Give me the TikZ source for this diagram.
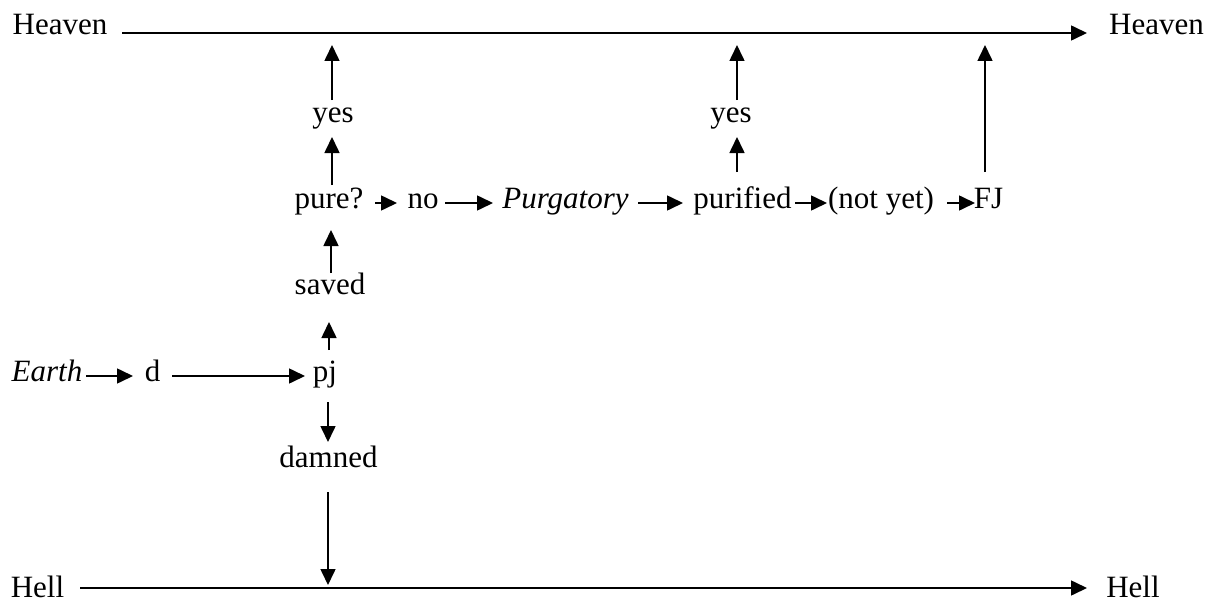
\documentclass[tikz,border=0pt]{standalone}
\usepackage{fontspec}
\setmainfont{Liberation Serif}
\usetikzlibrary{arrows.meta,calc}
\tikzset{
  lbl/.style={inner sep=0pt, anchor=base, font=\fontsize{31}{37}\selectfont},
  arr/.style={line width=1.6pt, -{Triangle[length=16pt,width=15pt]}},
}
\begin{document}
\begin{tikzpicture}[x=1pt,y=-1pt]
\useasboundingbox (0,0) rectangle (1216,602);
% nodes
\node[lbl] (H1) at (60,35) {Heaven};
\node[lbl] (H2) at (1156.5,35) {Heaven};
\node[lbl] (L1) at (37.5,597) {Hell};
\node[lbl] (L2) at (1133,597) {Hell};
\node[lbl] (yes1) at (333,122) {yes};
\node[lbl] (yes2) at (731,122) {yes};
\node[lbl] (pure) at (329,208) {pure?};
\node[lbl] (no) at (423,208) {no};
\node[lbl] (purg) at (565.5,208) {\itshape Purgatory};
\node[lbl] (purified) at (742.5,208) {purified};
\node[lbl] (notyet) at (881,208) {(not yet)};
\node[lbl] (FJ) at (988.5,208) {FJ};
\node[lbl] (saved) at (330,294) {saved};
\node[lbl] (earth) at (47,381) {\itshape Earth};
\node[lbl] (d) at (152.5,381) {d};
\node[lbl] (pj) at (325,381) {pj};
\node[lbl] (damned) at (328.5,467) {damned};
% main lines
\draw[arr] ($(H1.base)+(62,-2)$) -- ($(H2.base)+(-69.5,-2)$);
\draw[arr] ($(L1.base)+(42.5,-9)$) -- ($(L2.base)+(-46,-9)$);
% column 1
\draw[arr] ($(yes1.base)+(-1,-22)$) -- ($(yes1.base)+(-1,-77)$);
\draw[arr] ($(pure.base)+(3,-23)$) -- ($(yes1.base)+(-1,15)$);
\draw[arr] ($(saved.base)+(1,-21)$) -- ($(pure.base)+(2,22)$);
\draw[arr] ($(pj.base)+(4,-31)$) -- ($(saved.base)+(-1,28)$);
\draw[arr] ($(pj.base)+(3,21)$) -- ($(damned.base)+(-0.5,-25)$);
\draw[arr] ($(damned.base)+(-0.5,25)$) -- ($(damned.base)+(-0.5,118)$);
% earth row
\draw[arr] ($(earth.base)+(39,-5)$) -- ($(d.base)+(-19.5,-5)$);
\draw[arr] ($(d.base)+(19.5,-5)$) -- ($(pj.base)+(-20,-5)$);
% pure row
\draw[arr] ($(pure.base)+(46,-5)$) -- ($(no.base)+(-26,-5)$);
\draw[arr] ($(no.base)+(22,-5)$) -- ($(purg.base)+(-72.5,-5)$);
\draw[arr] ($(purg.base)+(72.5,-5)$) -- ($(purified.base)+(-59.5,-5)$);
\draw[arr] ($(purified.base)+(52.5,-5)$) -- ($(notyet.base)+(-54,-5)$);
\draw[arr] ($(notyet.base)+(66,-5)$) -- ($(FJ.base)+(-13.5,-5)$);
% column 2 and FJ
\draw[arr] ($(purified.base)+(-5.5,-36)$) -- ($(yes2.base)+(6,15)$);
\draw[arr] ($(yes2.base)+(6,-22)$) -- ($(yes2.base)+(6,-77)$);
\draw[arr] ($(FJ.base)+(-3.5,-36)$) -- ($(FJ.base)+(-3.5,-163)$);
\end{tikzpicture}
\end{document}
